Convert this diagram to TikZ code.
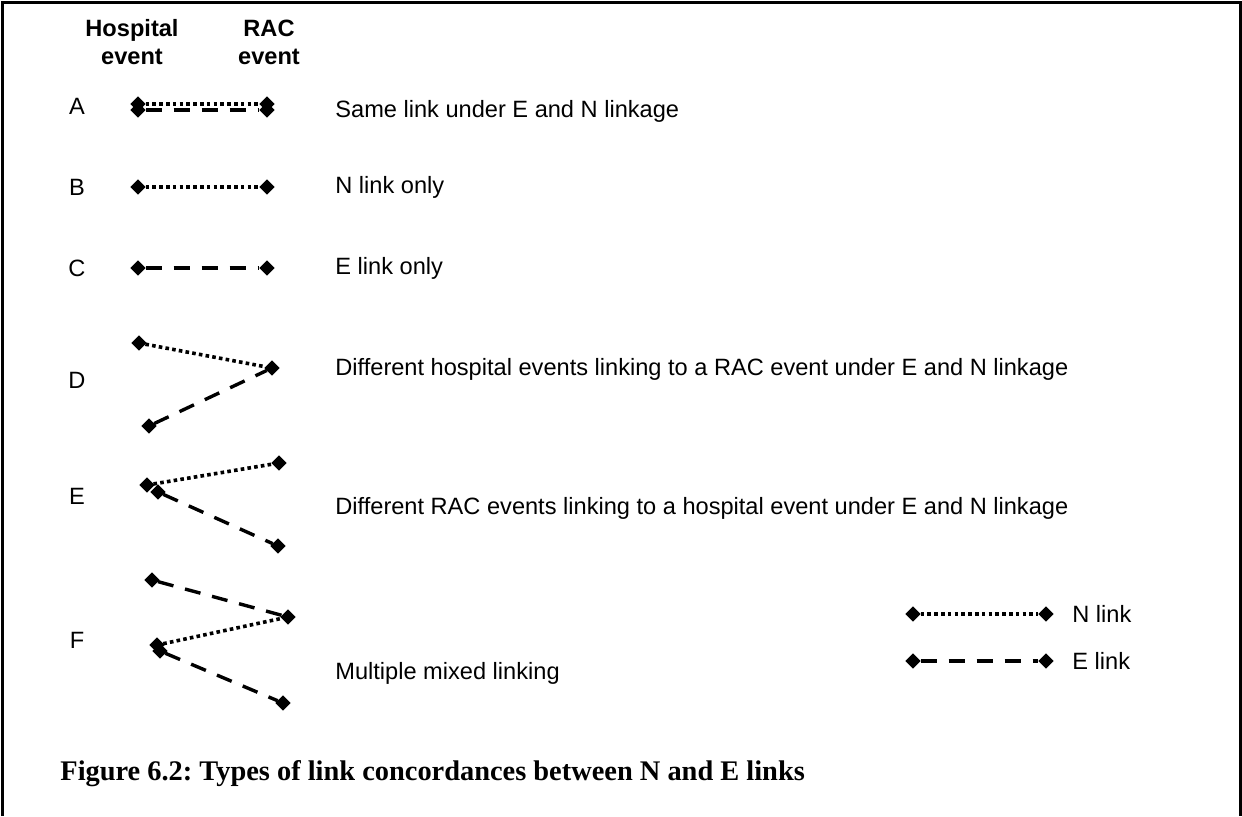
\documentclass[tikz,border=0pt]{standalone}
\usepackage{fontspec}
\setmainfont{Liberation Sans}
\newfontfamily\capfont{Liberation Serif}
\usetikzlibrary{shapes.geometric}

\begin{document}
\begin{tikzpicture}[x=0.5pt, y=-0.5pt,
    tip/.style={draw=black, fill=black, shape=diamond, inner sep=0pt, minimum size=7.2pt},
    nlink/.style={line width=1.8pt, dash pattern=on 1.8pt off 1.6pt},
    elink/.style={line width=1.7pt, dash pattern=on 8pt off 6pt},
    rowlabel/.style={text=black, font=\fontsize{11.8}{14}\selectfont},
    desc/.style={text=black, font=\fontsize{11.8}{14}\selectfont, anchor=west, inner sep=0pt},
    head/.style={text=black, font=\bfseries\fontsize{11.8}{14}\selectfont, align=center}]
    \useasboundingbox (0,0) rectangle (1242,816);
    \draw[line width=1.5pt] (2,816) -- (2,2) -- (1240,2) -- (1240,816);

    \node[head] (hosp) at (132,42) {Hospital\\event};
    \node[head] (rac) at (269,42) {RAC\\event};

    % A
    \node[rowlabel] (l_a) at (77,106) {A};
    \node[tip] (a_h1) at (138,104) {};
    \node[tip] (a_r1) at (267,104) {};
    \node[tip] (a_h2) at (138,110) {};
    \node[tip] (a_r2) at (267,110) {};
    \draw[nlink] (a_h1) -- (a_r1);
    \draw[elink] (a_h2) -- (a_r2);
    \node[desc] (t_a) at (335,111) {Same link under E and N linkage};

    % B
    \node[rowlabel] (l_b) at (77,187) {B};
    \node[tip] (b_h) at (138,187) {};
    \node[tip] (b_r) at (267,187) {};
    \draw[nlink] (b_h) -- (b_r);
    \node[desc] (t_b) at (335,187) {N link only};

    % C
    \node[rowlabel] (l_c) at (77,268) {C};
    \node[tip] (c_h) at (138,268) {};
    \node[tip] (c_r) at (267,268) {};
    \draw[elink] (c_h) -- (c_r);
    \node[desc] (t_c) at (335,268) {E link only};

    % D
    \node[rowlabel] (l_d) at (77,380) {D};
    \node[tip] (d_h1) at (139,343) {};
    \node[tip] (d_r) at (272,368) {};
    \node[tip] (d_h2) at (149,426) {};
    \draw[nlink] (d_h1) -- (d_r);
    \draw[elink] (d_h2) -- (d_r);
    \node[desc] (t_d) at (335,369) {Different hospital events linking to a RAC event under E and N linkage};

    % E
    \node[rowlabel] (l_e) at (77,496) {E};
    \node[tip] (e_h1) at (147,485) {};
    \node[tip] (e_h2) at (158,492) {};
    \node[tip] (e_r1) at (279,463) {};
    \node[tip] (e_r2) at (278,546) {};
    \draw[nlink] (e_h1) -- (e_r1);
    \draw[elink] (e_h2) -- (e_r2);
    \node[desc] (t_e) at (335,508) {Different RAC events linking to a hospital event under E and N linkage};

    % F
    \node[rowlabel] (l_f) at (77,640) {F};
    \node[tip] (f_h1) at (152,580) {};
    \node[tip] (f_r1) at (288,617) {};
    \node[tip] (f_h2) at (157,645) {};
    \node[tip] (f_h3) at (160,651) {};
    \node[tip] (f_r2) at (283,703) {};
    \draw[elink] (f_h1) -- (f_r1);
    \draw[nlink] (f_h2) -- (f_r1);
    \draw[elink] (f_h3) -- (f_r2);
    \node[desc] (t_f) at (335,673) {Multiple mixed linking};

    % legend
    \node[tip] (k_n1) at (913,614) {};
    \node[tip] (k_n2) at (1046,614) {};
    \draw[nlink] (k_n1) -- (k_n2);
    \node[desc] (k_nt) at (1072,614) {N link};
    \node[tip] (k_e1) at (913,661) {};
    \node[tip] (k_e2) at (1046,661) {};
    \draw[elink] (k_e1) -- (k_e2);
    \node[desc] (k_et) at (1072,661) {E link};

    \node[anchor=west, inner sep=0pt, font=\capfont\bfseries\fontsize{14.2}{16}\selectfont] (cap) at (60,774) {\frenchspacing Figure 6.2: Types of link concordances between N and E links};
\end{tikzpicture}
\end{document}
